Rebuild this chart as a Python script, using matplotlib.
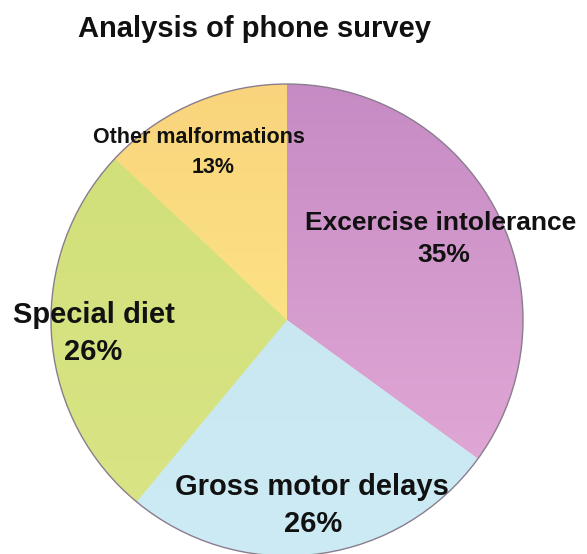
import matplotlib
matplotlib.use("Agg")
import matplotlib.pyplot as plt
import numpy as np
from matplotlib.patches import Circle
from matplotlib.colors import to_rgb

title = "Analysis of phone survey"
categories = ["Excercise intolerance", "Gross motor delays", "Special diet", "Other malformations"]
values = [35, 26, 26, 13]
colors = ["#DCA3D3", "#C9E8F1", "#D6E27E", "#FDE282"]
# gradient tops / bottoms (style)
grad_top = ["#C68BC4", "#C4E4EF", "#D0DF78", "#F9D47C"]
grad_bot = ["#E6AED9", "#CDEBF4", "#DAE586", "#FFF08C"]

# layout (pixel-based coordinates from top-left; baselines)
W, H = 587, 554
center = (287, H - 320)
radius = 236
name_pos = [(441, 230), (312, 495), (94, 323), (199, 143)]
pct_pos = [(444, 262), (313, 532), (93, 360), (213, 173)]
label_size = [19, 21, 21, 15.5]

fig = plt.figure(figsize=(W / 100, H / 100), dpi=100)
ax = fig.add_axes([0, 0, 1, 1])

wedges, _ = ax.pie(values, colors=colors, startangle=90, counterclock=False,
                   center=center, radius=radius, frame=True,
                   wedgeprops=dict(linewidth=0))
ax.set_xlim(0, W)
ax.set_ylim(0, H)
ax.set_aspect("equal")
ax.axis("off")

extent = [center[0] - radius, center[0] + radius, center[1] - radius, center[1] + radius]
t = np.linspace(0, 1, 256)[:, None]
for w, c0, c1 in zip(wedges, grad_top, grad_bot):
    a, b = np.array(to_rgb(c0)), np.array(to_rgb(c1))
    img = (a[None, None, :] * (1 - t[..., None]) + b[None, None, :] * t[..., None])
    img = np.repeat(img, 2, axis=1)
    im = ax.imshow(img, extent=extent, origin="upper", zorder=w.get_zorder() + 0.1,
                   interpolation="bilinear", aspect="auto")
    im.set_clip_path(w)
ax.set_xlim(0, W)
ax.set_ylim(0, H)

ax.add_patch(Circle(center, radius, fill=False, edgecolor="#8a7d8e", linewidth=1.0, zorder=5))

for cat, val, npos, ppos, fs in zip(categories, values, name_pos, pct_pos, label_size):
    ax.text(npos[0], H - npos[1], cat, ha="center", va="baseline",
            fontsize=fs, fontweight="bold", family="Liberation Sans",
            color="#111111", zorder=6)
    ax.text(ppos[0], H - ppos[1], f"{val}%", ha="center", va="baseline",
            fontsize=fs, fontweight="bold", family="Liberation Sans",
            color="#111111", zorder=6)

fig.text(254 / W, 1 - 37 / H, title, ha="center", va="baseline", fontsize=21,
         fontweight="bold", family="Liberation Sans", color="#111111")

fig.savefig("out.png", dpi=100, facecolor="white")
